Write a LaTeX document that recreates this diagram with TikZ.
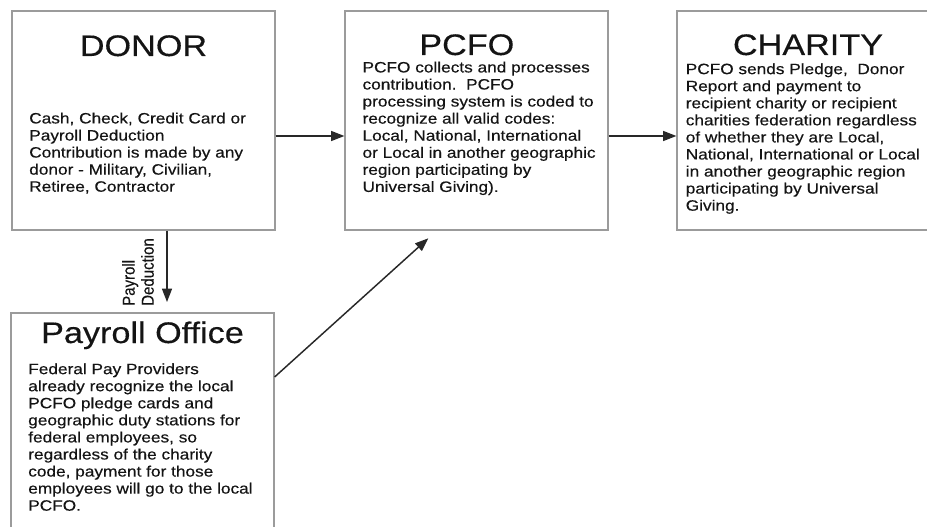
\documentclass[tikz,border=0pt]{standalone}
\usepackage{fontspec}
\setmainfont{Liberation Sans}[FakeStretch=1.15, FakeBold=0.35]
\newfontfamily\sidefont{Liberation Sans}[FakeBold=0.35]
\usetikzlibrary{arrows.meta,positioning}
\definecolor{boxgray}{RGB}{155,155,155}
\definecolor{arrowgray}{RGB}{40,40,40}
\definecolor{inkblack}{RGB}{20,20,20}

\tikzset{
  box/.style={draw=boxgray, line width=0.9pt, minimum width=197.25pt, minimum height=164.25pt, inner sep=0pt},
  heading/.style={font=\fontsize{22.3}{26}\selectfont, text=inkblack, inner sep=0pt},
  body/.style={font=\fontsize{11.25}{12.8}\selectfont, text=inkblack, align=left, inner sep=0pt, anchor=north west},
  flow/.style={-{Triangle[length=10pt,width=7.5pt]}, line width=1.1pt, draw=arrowgray},
}

\begin{document}
\begin{tikzpicture}[x=0.75pt,y=-0.75pt]
	\useasboundingbox (0,0) rectangle (927,527);
	\clip (0,0) rectangle (927,527);
	% boxes
	\node[box] (donor) at (143.5,120.5) {};
	\node[box] (pcfo) at (476.5,120.5) {};
	\node[box] (charity) at (808.5,120.5) {};
	\node[box] (payroll) at (142.5,422.5) {};
	% titles
	\node[heading, anchor=base] (donorT) at (143.5,56) {DONOR};
	\node[heading, anchor=base west] (pcfoT) at (419,55) {PCFO};
	\node[heading, anchor=base] (charityT) at (808,55) {CHARITY};
	\node[heading, anchor=base] (payrollT) at (142.5,343) {Payroll Office};
	% texts
	\node[body] (donorB) at (29,112.3) {Cash, Check, Credit Card or\\Payroll Deduction\\Contribution is made by any\\donor - Military, Civilian,\\Retiree, Contractor};
	\node[body] (pcfoB) at (362.3,61.3) {PCFO collects and processes\\contribution.\ \ PCFO\\processing system is coded to\\recognize all valid codes:\\Local, National, International\\or Local in another geographic\\region participating by\\Universal Giving).};
	\node[body] (charityB) at (685.5,63) {PCFO sends Pledge,\ \ Donor\\Report and payment to\\recipient charity or recipient\\charities federation regardless\\of whether they are Local,\\National, International or Local\\in another geographic region\\participating by Universal\\Giving.};
	\node[body] (payrollB) at (28,363) {Federal Pay Providers\\already recognize the local\\PCFO pledge cards and\\geographic duty stations for\\federal employees, so\\regardless of the charity\\code, payment for those\\employees will go to the local\\PCFO.};
	% arrows
	\coordinate (rowA) at (0,136);
	\coordinate (rowB) at (0,377);
	\coordinate (dedEnd) at (167,302);
	\coordinate (pcfoIn) at (428.3,238.3);
	\draw[flow] (donor.east |- rowA) -- (pcfo.west |- rowA);
	\draw[flow] (pcfo.east |- rowA) -- (charity.west |- rowA);
	\draw[flow] (donor.south -| dedEnd) -- (dedEnd);
	\draw[flow] (payroll.east |- rowB) -- (pcfoIn);
	\coordinate (dedLbl) at (138,272);
	\node[xscale=1.15, rotate=90, align=left, inner sep=0pt, font=\sidefont\fontsize{11.25}{12.4}\selectfont, text=inkblack] (dedText) at (dedLbl) {Payroll\\Deduction};
\end{tikzpicture}
\end{document}
